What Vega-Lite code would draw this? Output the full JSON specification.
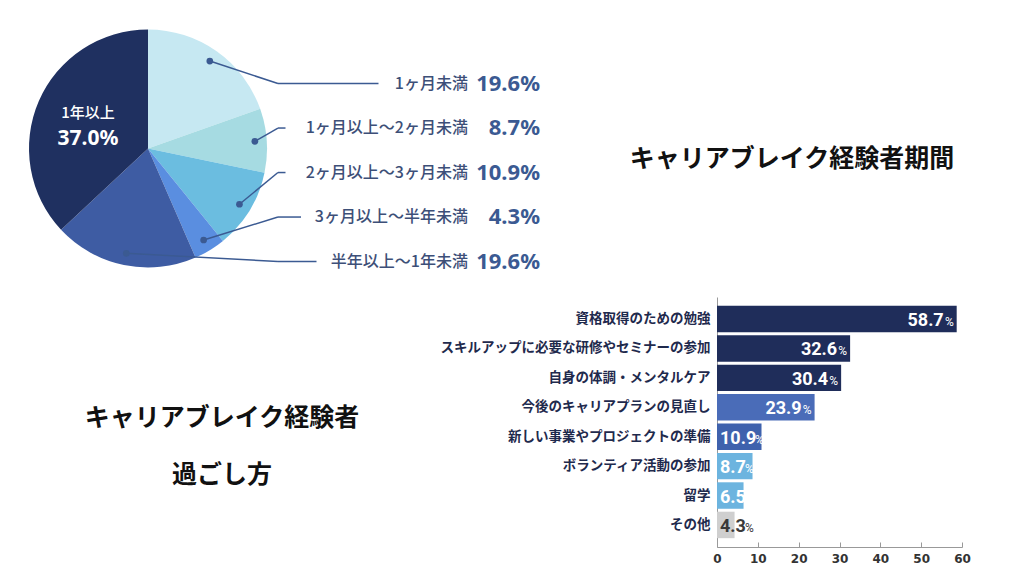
{
  "$schema": "https://vega.github.io/schema/vega-lite/v6.json",
  "padding": 0,
  "background": "white",
  "spacing": 0,
  "config": {
    "view": {"stroke": null},
    "font": "Noto Sans CJK JP",
    "concat": {"spacing": 0}
  },
  "resolve": {"scale": {"color": "independent"}},
  "vconcat": [
    {
      "spacing": 0,
      "hconcat": [
        {
          "width": 296,
          "height": 297,
          "data": {
            "values": [
              {"idx": 1, "label": "1ヶ月未満", "pct": 19.6},
              {"idx": 2, "label": "1ヶ月以上～2ヶ月未満", "pct": 8.7},
              {"idx": 3, "label": "2ヶ月以上～3ヶ月未満", "pct": 10.9},
              {"idx": 4, "label": "3ヶ月以上～半年未満", "pct": 4.3},
              {"idx": 5, "label": "半年以上～1年未満", "pct": 19.6},
              {"idx": 6, "label": "1年以上", "pct": 37.0}
            ]
          },
          "transform": [
            {"joinaggregate": [{"op": "sum", "field": "pct", "as": "total"}]},
            {"window": [{"op": "sum", "field": "pct", "as": "cum"}], "sort": [{"field": "idx"}], "frame": [null, 0]},
            {"calculate": "(datum.cum - datum.pct/2)/datum.total*2*PI", "as": "mid"},
            {"calculate": "0.9*sin(datum.mid)", "as": "dotx"},
            {"calculate": "0.9*cos(datum.mid)", "as": "doty"},
            {"calculate": "0.55*sin(datum.mid)", "as": "inx"},
            {"calculate": "0.55*cos(datum.mid)", "as": "iny"},
            {"calculate": "0.546 - 0.374*(datum.idx-1)", "as": "ly"},
            {"calculate": "1.092", "as": "ex"},
            {"calculate": "2.689", "as": "tx"},
            {"calculate": "3.294", "as": "px"},
            {"calculate": "(308 - 15.5*length(datum.label))/119", "as": "lx"},
            {"calculate": "format(datum.pct, '.1f') + '%'", "as": "pctText"}
          ],
          "layer": [
            {
              "mark": {"type": "arc", "outerRadius": 119},
              "encoding": {
                "theta": {"field": "pct", "type": "quantitative", "stack": true},
                "order": {"field": "idx", "type": "quantitative"},
                "color": {
                  "field": "label",
                  "type": "nominal",
                  "scale": {
                    "domain": ["1ヶ月未満", "1ヶ月以上～2ヶ月未満", "2ヶ月以上～3ヶ月未満", "3ヶ月以上～半年未満", "半年以上～1年未満", "1年以上"],
                    "range": ["#c6e8f2", "#a6dbe2", "#6bbde0", "#5a8ee0", "#3e5ca3", "#1f3060"]
                  },
                  "legend": null
                }
              }
            },
            {
              "transform": [{"filter": "datum.idx < 6"}],
              "mark": {"type": "rule", "color": "#3b5a92", "strokeWidth": 1.5},
              "encoding": {
                "x": {"field": "dotx", "type": "quantitative", "scale": {"domain": [-1.2437, 1.2437], "nice": false, "zero": false}, "axis": null},
                "y": {"field": "doty", "type": "quantitative", "scale": {"domain": [-1.248, 1.248], "nice": false, "zero": false}, "axis": null},
                "x2": {"field": "ex"},
                "y2": {"field": "ly"}
              }
            },
            {
              "transform": [{"filter": "datum.idx < 6"}],
              "mark": {"type": "rule", "color": "#3b5a92", "strokeWidth": 1.5},
              "encoding": {
                "x": {"field": "ex", "type": "quantitative"},
                "x2": {"field": "lx"},
                "y": {"field": "ly", "type": "quantitative"}
              }
            },
            {
              "transform": [{"filter": "datum.idx < 6"}],
              "mark": {"type": "point", "filled": true, "size": 45, "color": "#3b5a92", "opacity": 1},
              "encoding": {
                "x": {"field": "dotx", "type": "quantitative"},
                "y": {"field": "doty", "type": "quantitative"}
              }
            },
            {
              "transform": [{"filter": "datum.idx < 6"}],
              "mark": {"type": "text", "align": "right", "baseline": "middle", "fontSize": 16, "fontWeight": 500, "color": "#3d4f78", "font": "Noto Sans CJK JP"},
              "encoding": {
                "x": {"field": "tx", "type": "quantitative"},
                "y": {"field": "ly", "type": "quantitative"},
                "text": {"field": "label"}
              }
            },
            {
              "transform": [{"filter": "datum.idx < 6"}],
              "mark": {"type": "text", "align": "right", "baseline": "middle", "fontSize": 22, "fontWeight": "bold", "color": "#3b5a92", "font": "Noto Sans"},
              "encoding": {
                "x": {"field": "px", "type": "quantitative"},
                "y": {"field": "ly", "type": "quantitative"},
                "text": {"field": "pctText"}
              }
            },
            {
              "transform": [{"filter": "datum.idx == 6"}],
              "mark": {"type": "text", "align": "center", "baseline": "middle", "dy": -9, "fontSize": 15, "fontWeight": 500, "color": "white", "font": "Noto Sans CJK JP"},
              "encoding": {
                "x": {"field": "inx", "type": "quantitative"},
                "y": {"field": "iny", "type": "quantitative"},
                "text": {"field": "label"}
              }
            },
            {
              "transform": [{"filter": "datum.idx == 6"}],
              "mark": {"type": "text", "align": "center", "baseline": "middle", "dy": 17, "fontSize": 21, "fontWeight": "bold", "color": "white", "font": "Noto Sans"},
              "encoding": {
                "x": {"field": "inx", "type": "quantitative"},
                "y": {"field": "iny", "type": "quantitative"},
                "text": {"field": "pctText"}
              }
            }
          ]
        },
        {
          "width": 490,
          "height": 297,
          "data": {"values": [{"t": "キャリアブレイク経験者期間"}]},
          "mark": {"type": "text", "fontSize": 25, "fontWeight": "bold", "color": "#111111", "dy": 10, "dx": 7, "font": "Noto Sans CJK JP"},
          "encoding": {"text": {"field": "t", "type": "nominal"}}
        }
      ]
    },
    {
      "spacing": 0,
      "hconcat": [
        {
          "width": 440,
          "height": 250,
          "data": {"values": [{"t": "キャリアブレイク経験者\n過ごし方"}]},
          "mark": {"type": "text", "fontSize": 25, "fontWeight": "bold", "color": "#111111", "lineBreak": "\n", "lineHeight": 57, "dy": -4, "dx": 2, "font": "Noto Sans CJK JP"},
          "encoding": {"text": {"field": "t", "type": "nominal"}}
        },
        {
          "width": 245,
          "height": 250,
          "data": {
            "values": [
              {"item": "資格取得のための勉強", "value": 58.7},
              {"item": "スキルアップに必要な研修やセミナーの参加", "value": 32.6},
              {"item": "自身の体調・メンタルケア", "value": 30.4},
              {"item": "今後のキャリアプランの見直し", "value": 23.9},
              {"item": "新しい事業やプロジェクトの準備", "value": 10.9},
              {"item": "ボランティア活動の参加", "value": 8.7},
              {"item": "留学", "value": 6.5},
              {"item": "その他", "value": 4.3}
            ]
          },
          "transform": [
            {"calculate": "format(datum.value, '.1f')", "as": "num"},
            {"calculate": "0", "as": "base"},
            {"calculate": "(3.5 + (length(datum.num)-1)*10 + 4.5)*60/245", "as": "pctx"}
          ],
          "encoding": {
            "y": {
              "field": "item",
              "type": "nominal",
              "sort": null,
              "scale": {"paddingInner": 0.1, "paddingOuter": 0.3},
              "axis": {
                "title": null,
                "ticks": false,
                "domainColor": "#9a9a9a",
                "labelFontSize": 13.5,
                "labelFontWeight": "bold",
                "labelColor": "#1f2a4d",
                "labelPadding": 7,
                "labelFont": "Noto Sans CJK JP",
                "labelLimit": 400
              }
            }
          },
          "layer": [
            {
              "mark": {"type": "bar"},
              "encoding": {
                "x": {
                  "field": "value",
                  "type": "quantitative",
                  "scale": {"domain": [0, 60]},
                  "axis": {
                    "title": null,
                    "values": [0, 10, 20, 30, 40, 50, 60],
                    "tickSize": -5,
                    "tickColor": "#999999",
                    "domainColor": "#999999",
                    "labelFontSize": 12,
                    "labelFont": "DejaVu Sans",
                    "labelFontWeight": "bold",
                    "labelColor": "#333333",
                    "labelPadding": 11,
                    "grid": false,
                    "labelFlush": false
                  }
                },
                "color": {
                  "field": "item",
                  "type": "nominal",
                  "scale": {
                    "domain": ["資格取得のための勉強", "スキルアップに必要な研修やセミナーの参加", "自身の体調・メンタルケア", "今後のキャリアプランの見直し", "新しい事業やプロジェクトの準備", "ボランティア活動の参加", "留学", "その他"],
                    "range": ["#1f2d5a", "#1f2d5a", "#1f2d5a", "#4a6cb8", "#3f62ad", "#6cb4df", "#6cb4df", "#cfcfcf"]
                  },
                  "legend": null
                }
              }
            },
            {
              "transform": [{"filter": "datum.value >= 15"}],
              "mark": {"type": "text", "align": "right", "baseline": "alphabetic", "dx": -13, "dy": 7, "fontSize": 18, "fontWeight": "bold", "font": "Roboto", "color": "white"},
              "encoding": {
                "x": {"field": "value", "type": "quantitative"},
                "text": {"field": "num", "type": "nominal"}
              }
            },
            {
              "transform": [{"filter": "datum.value >= 15"}],
              "mark": {"type": "text", "align": "right", "baseline": "alphabetic", "dx": -3, "dy": 7, "fontSize": 12, "font": "Roboto", "color": "white", "text": "%"},
              "encoding": {
                "x": {"field": "value", "type": "quantitative"}
              }
            },
            {
              "transform": [{"filter": "datum.value < 15"}],
              "mark": {"type": "text", "align": "left", "baseline": "alphabetic", "dx": 3, "dy": 7, "fontSize": 18, "fontWeight": "bold", "font": "Roboto"},
              "encoding": {
                "x": {"field": "base", "type": "quantitative"},
                "text": {"field": "num", "type": "nominal"},
                "color": {"condition": {"test": "datum.item == 'その他'", "value": "#3a3a3a"}, "value": "white"}
              }
            },
            {
              "transform": [{"filter": "datum.value < 15"}],
              "mark": {"type": "text", "align": "left", "baseline": "alphabetic", "dy": 7, "fontSize": 12, "font": "Roboto", "text": "%"},
              "encoding": {
                "x": {"field": "pctx", "type": "quantitative"},
                "color": {"condition": {"test": "datum.item == 'その他'", "value": "#3a3a3a"}, "value": "white"}
              }
            }
          ]
        }
      ]
    }
  ]
}
